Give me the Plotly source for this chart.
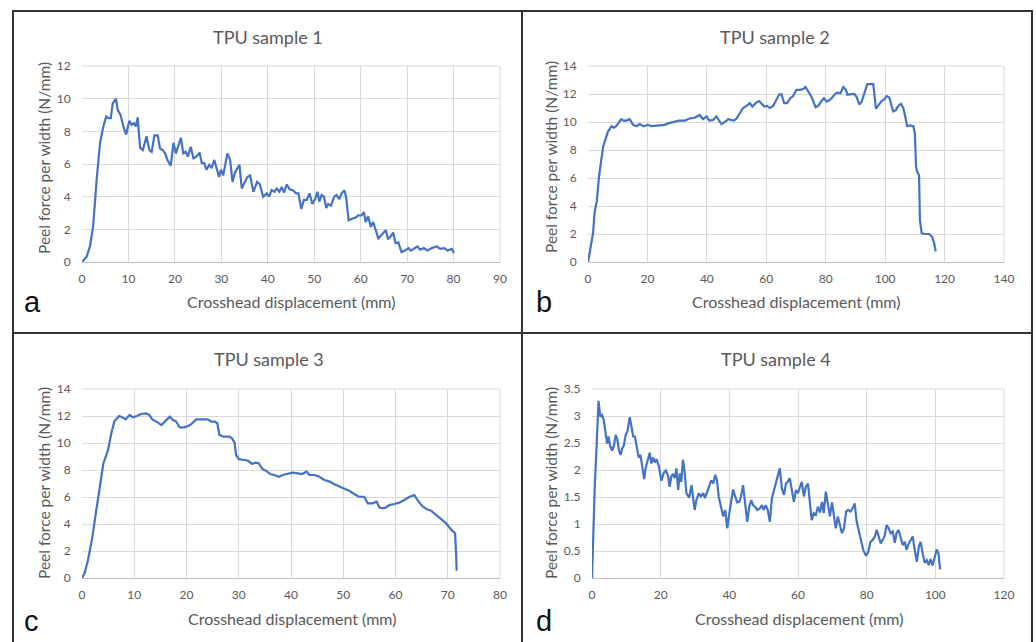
import plotly.graph_objects as go

W, H = 1036, 642

# ---------------- data ----------------
a_x = [0, 1, 1.7, 2.4, 3.2, 3.9, 4.6, 5.2, 5.7, 6.2, 6.6, 7.3, 7.7, 8.3, 8.9, 9.5, 10.2, 10.7, 11.2, 11.6, 12.0,
       12.5, 13.1, 13.9, 14.5, 15.0, 15.6, 16.3, 16.8, 17.4, 17.9, 18.4, 19.1, 19.7, 20.2, 20.8, 21.3, 21.8, 22.3,
       22.8, 23.4, 24.0, 24.6, 25.3, 25.8, 26.3, 26.8, 27.4, 27.9, 28.5, 29.0, 29.5, 29.9, 30.4, 31.3, 31.9, 32.4,
       32.9, 33.9, 34.4, 34.9, 35.6, 36.2, 36.9, 37.7, 38.3, 39.0, 39.8, 40.3, 40.8, 41.4, 41.9, 42.5, 43.0, 43.5,
       44.1, 44.7, 45.4, 46.1, 46.6, 47.2, 47.8, 48.4, 49.0, 49.6, 50.2, 50.7, 51.1, 51.6, 52.1, 52.6, 53.0, 53.6,
       54.3, 54.8, 55.4, 55.9, 56.5, 56.9, 57.4, 58.1, 58.8, 59.5, 60.2, 60.7, 61.1, 61.6, 62.2, 62.7, 63.2, 63.8,
       64.5, 65.4, 65.9, 66.4, 67.0, 67.5, 68.1, 68.8, 69.5, 70.3, 70.8, 71.5, 72.2, 72.8, 73.6, 74.4, 75.3, 76.4,
       77.1, 78.0, 78.7, 79.6, 80.1]
a_y = [0, 0.33, 0.94, 2.2, 5.2, 7.3, 8.3, 8.9, 8.8, 8.8, 9.7, 10.0, 9.3, 9.0, 8.3, 7.8, 8.65, 8.4, 8.5, 8.3, 8.85,
       7.0, 6.85, 7.7, 6.85, 6.75, 7.75, 7.75, 6.95, 6.85, 6.65, 6.25, 5.9, 7.3, 6.65, 7.1, 7.6, 6.65, 6.75,
       6.45, 7.05, 6.35, 6.45, 6.7, 6.05, 6.05, 5.65, 5.95, 5.75, 6.25, 5.65, 5.2, 5.65, 5.3, 6.65, 6.25, 4.9,
       5.45, 5.95, 4.5, 4.8, 5.2, 5.3, 4.3, 4.9, 4.75, 4.0, 4.2, 4.0, 4.4, 4.3, 4.5, 4.3, 4.6, 4.25,
       4.75, 4.45, 4.4, 4.2, 4.2, 3.25, 3.8, 3.8, 4.2, 3.55, 3.85, 4.3, 3.7, 4.1, 4.0, 3.3, 3.55, 3.45,
       4.0, 4.1, 3.85, 4.2, 4.4, 3.9, 2.55, 2.65, 2.7, 2.85, 2.85, 3.05, 2.45, 2.8, 2.15, 2.45, 1.95, 1.45,
       1.65, 1.95, 1.4, 1.55, 1.8, 1.15, 1.2, 0.6, 0.7, 0.85, 0.7, 0.85, 0.95, 0.75, 0.85, 0.7, 0.85, 0.95,
       0.8, 0.85, 0.7, 0.8, 0.55]

b_x = [0, 0.9, 1.7, 2.2, 3.0, 3.7, 4.5, 5.1, 6.0, 6.7, 7.9, 8.7, 9.5, 10.4, 11.2, 12.0, 12.9, 14.0, 15.2, 16.3,
       17.4, 18.7, 20.2, 21.3, 23.0, 24.1, 25.8, 27.0, 28.6, 30.6, 32.6, 34.2, 35.9, 37.6, 38.7, 39.9, 40.8,
       42.1, 43.2, 44.0, 44.9, 46.0, 47.2, 48.1, 49.1, 50.0, 51.1, 52.2, 53.3, 54.5, 55.3, 56.7, 57.6, 58.4,
       59.3, 60.3, 61.2, 62.3, 63.4, 64.3, 65.1, 66.0, 67.0, 68.1, 69.0, 70.2, 71.3, 72.4, 73.2, 74.1, 75.2,
       76.6, 77.5, 78.6, 79.4, 80.3, 81.2, 82.2, 83.1, 84.0, 85.0, 85.9, 86.8, 87.3, 88.5, 89.6, 90.4, 91.3,
       92.1, 93.0, 94.0, 94.9, 96.0, 96.9, 97.7, 98.8, 99.6, 100.5, 101.4, 102.2, 102.7, 103.6, 104.4, 105.3,
       106.1, 106.8, 107.4, 108.3, 109.5, 110.0, 110.4, 110.8, 111.4, 111.7, 112.3, 113.4, 114.8, 115.8,
       116.5, 117.0]
b_y = [0, 1.1, 2.05, 3.5, 4.4, 6.1, 7.3, 8.25, 8.85, 9.3, 9.7, 9.6, 9.7, 9.95, 10.2, 10.1, 10.1, 10.2, 9.8, 9.7,
       9.85, 9.7, 9.8, 9.7, 9.75, 9.75, 9.8, 9.9, 9.98, 10.1, 10.1, 10.25, 10.3, 10.5, 10.2, 10.4, 10.1,
       10.15, 10.4, 10.15, 9.85, 10.0, 10.2, 10.15, 10.1, 10.25, 10.6, 11.0, 11.15, 11.35, 11.1, 11.4, 11.5, 11.3,
       11.1, 11.15, 11.0, 11.15, 11.6, 11.95, 12.0, 11.35, 11.35, 11.7, 11.85, 12.3, 12.3, 12.35, 12.5, 12.15, 11.8,
       11.05, 11.15, 11.5, 11.7, 11.45, 11.55, 11.75, 12.0, 12.1, 12.05, 12.5, 12.3, 11.95, 11.95, 12.0, 11.8, 11.25,
       11.45, 12.05, 12.7, 12.7, 12.7, 10.95, 11.15, 11.5, 11.6, 11.85, 11.75, 11.15, 10.75, 10.85, 11.15, 11.3,
       11.0, 10.35, 9.7, 9.75, 9.7, 9.2, 6.8, 6.45, 6.2, 3.0, 2.05, 2.0, 2.0, 1.8,
       1.35, 0.75]

c_x = [0, 0.5, 1.15, 2.0, 2.74, 3.4, 4.1, 5.0, 5.6, 6.2, 7.1, 7.7, 8.35, 9.1, 9.75, 10.5, 11.3, 12.3, 12.9, 13.45,
       14.2, 15.2, 15.8, 16.8, 17.4, 18.0, 18.7, 19.5, 20.3, 20.9, 21.9, 22.8, 24.1, 24.7, 25.4, 25.9, 26.3,
       27.1, 28.2, 28.7, 29.2, 29.5, 30.0, 31.1, 31.7, 32.6, 33.2, 33.8, 34.6, 35.2, 36.1, 36.8, 37.7, 38.4,
       39.4, 40.3, 41.3, 42.1, 43.0, 43.5, 44.5, 45.4, 46.4, 47.4, 48.3, 49.3, 50.2, 51.2, 52.1, 53.0, 54.0,
       54.7, 55.6, 56.4, 56.9, 57.5, 58.2, 58.8, 59.8, 60.7, 61.7, 62.7, 63.6, 64.2, 65.1, 66.0, 66.8, 67.7,
       68.7, 69.7, 70.6, 71.4, 71.6, 71.7]
c_y = [0, 0.35, 1.33, 3.06, 5.04, 6.77, 8.5, 9.5, 10.7, 11.6, 12.0, 11.9, 11.75, 12.07, 11.9, 12.0, 12.15, 12.2,
       12.07, 11.75, 11.6, 11.33, 11.58, 11.95, 11.7, 11.6, 11.16, 11.16, 11.26, 11.4, 11.75, 11.75, 11.75, 11.58,
       11.58, 11.46, 10.6, 10.47, 10.47, 10.35, 10.02, 9.1, 8.8, 8.74, 8.7, 8.45, 8.55, 8.5, 8.05, 7.95, 7.68,
       7.63, 7.5, 7.63, 7.7, 7.8, 7.75, 7.7, 7.88, 7.63, 7.63, 7.5, 7.26, 7.14, 6.94, 6.77, 6.64, 6.44, 6.22,
       6.02, 6.02, 5.53, 5.53, 5.65, 5.23, 5.16, 5.23, 5.4, 5.48, 5.58, 5.78, 6.02, 6.15, 5.78, 5.33, 5.09, 4.99,
       4.72, 4.42, 4.05, 3.6, 3.31, 1.83, 0.54]

d_x = [0, 0.8, 1.5, 1.9, 2.4, 2.9, 3.4, 4.0, 4.4, 4.8, 5.3, 5.9, 6.4, 6.9, 7.4, 7.8, 8.3, 8.8, 9.3, 9.8, 10.3,
       11.0, 11.6, 12.0, 12.5, 13.1, 13.6, 14.1, 14.7, 15.2, 15.6, 16.3, 16.8, 17.3, 17.8, 18.3, 18.8, 19.5,
       20.2, 20.9, 21.5, 22.2, 22.6, 23.1, 23.6, 24.1, 24.6, 25.1, 25.6, 26.0, 26.5, 27.0, 27.5, 28.3, 29.0,
       29.4, 29.9, 30.4, 31.1, 31.7, 32.4, 32.9, 33.5, 34.1, 34.7, 35.3, 35.9, 36.4, 36.9, 37.5, 38.2, 38.8,
       39.4, 40.0, 40.5, 41.1, 41.7, 42.3, 42.9, 43.4, 44.0, 44.6, 45.2, 45.8, 46.4, 46.9, 47.5, 48.1, 48.9,
       49.5, 50.0, 50.6, 51.2, 51.8, 52.4, 52.9, 53.5, 54.1, 54.7, 55.3, 55.9, 56.5, 57.0, 57.6, 58.2, 58.8,
       59.4, 60.0, 60.6, 61.1, 61.7, 62.3, 62.9, 63.5, 64.0, 64.6, 65.2, 65.8, 66.4, 67.0, 67.5, 68.1, 68.7,
       69.3, 69.9, 70.5, 71.0, 71.6, 72.2, 72.8, 73.4, 74.0, 74.6, 75.3, 75.9, 76.5, 77.1, 77.6, 78.2, 79.0,
       79.8, 80.5, 81.1, 81.7, 82.4, 82.9, 83.5, 84.1, 84.6, 85.2, 85.8, 86.4, 87.0, 87.6, 88.2, 88.7, 89.3,
       89.9, 90.5, 91.1, 91.6, 92.2, 92.8, 93.4, 94.0, 94.6, 95.2, 95.7, 96.3, 96.9, 97.5, 98.1, 98.6, 99.2,
       99.8, 100.4, 100.9, 101.4]
d_y = [0, 1.69, 2.68, 3.28, 2.99, 3.02, 2.93, 2.68, 2.49, 2.62, 2.44, 2.36, 2.46, 2.65, 2.56, 2.38, 2.28, 2.4,
       2.46, 2.65, 2.71, 2.98, 2.8, 2.62, 2.62, 2.43, 2.23, 2.28, 2.0, 1.83, 2.03, 2.19, 2.32, 2.12, 2.23, 2.14,
       2.2, 2.06, 1.8, 1.95, 1.99, 1.88, 1.69, 1.88, 1.93, 1.85, 2.03, 1.63, 1.94, 1.78, 2.19, 1.95, 1.57, 1.49,
       1.72, 1.51, 1.26, 1.44, 1.57, 1.51, 1.57, 1.48, 1.57, 1.69, 1.81, 1.75, 1.91, 1.81, 1.51, 1.32, 1.14,
       1.26, 0.92, 1.2, 1.38, 1.64, 1.51, 1.40, 1.41, 1.51, 1.72, 1.32, 1.04, 1.32, 1.44, 1.35, 1.32, 1.26,
       1.29, 1.35, 1.26, 1.35, 1.26, 1.04, 1.48, 1.60, 1.75, 1.85, 2.03, 1.66, 1.54, 1.75, 1.78, 1.85, 1.63,
       1.41, 1.63, 1.57, 1.69, 1.78, 1.51, 1.69, 1.75, 1.38, 1.07, 1.2, 1.17, 1.32, 1.21, 1.41, 1.2, 1.60,
       1.32, 1.14, 1.40, 1.14, 0.92, 1.14, 0.95, 0.83, 0.92, 1.23, 1.26, 1.23, 1.29, 1.38, 1.04, 0.89, 0.70,
       0.52, 0.41, 0.49, 0.67, 0.70, 0.77, 0.89, 0.77, 0.64, 0.70, 0.77, 0.98, 0.92, 0.83, 0.86, 0.65, 0.83,
       0.89, 0.73, 0.61, 0.67, 0.52, 0.63, 0.70, 0.77, 0.52, 0.30, 0.58, 0.67, 0.46, 0.28, 0.33, 0.24, 0.35,
       0.23, 0.38, 0.53, 0.46, 0.16]

titles = ["TPU sample 1", "TPU sample 2", "TPU sample 3", "TPU sample 4"]
letters = ["a", "b", "c", "d"]
x_title = "Crosshead displacement (mm)"
y_title = "Peel force per width (N/mm)"
x_ranges = [[0, 90], [0, 140], [0, 80], [0, 120]]
x_dticks = [10, 20, 10, 20]
y_ranges = [[0, 12], [0, 14], [0, 14], [0, 3.5]]
y_dticks = [2, 2, 2, 0.5]
series = [(a_x, a_y), (b_x, b_y), (c_x, c_y), (d_x, d_y)]

# ---------------- layout (pixel geometry) ----------------
# plot areas: (left, right, top, bottom) in px
areas = [(82, 500, 66, 262), (588, 1004, 66, 262), (82, 500, 389, 578), (592, 1004, 389, 578)]
title_pos = [(268, 37), (775, 37), (269, 359), (776, 359)]
xt_pos = [(291, 302), (796, 302), (292, 618), (799, 618)]
yt_pos = [(44, 158), (551, 157), (44, 483), (551, 483)]
letter_pos = [(22, 320), (534, 320), (22, 639), (534, 639)]

def px(x):
    return x / W

def py(y):
    return 1 - y / H

FONT = "Lato, Carlito, 'Open Sans', sans-serif"
TXT = "#595959"
GRID = "#d9d9d9"
BLUE = "#4472C4"

fig = go.Figure()
layout = dict(
    width=W, height=H, margin=dict(l=0, r=0, t=0, b=0, pad=0, autoexpand=False),
    paper_bgcolor="white", plot_bgcolor="white", showlegend=False,
    font=dict(family=FONT, color=TXT),
)
annotations = []
for i, ((xs, ys), (l, r, t, b)) in enumerate(zip(series, areas)):
    n = "" if i == 0 else str(i + 1)
    fig.add_trace(go.Scatter(x=xs, y=ys, mode="lines", line=dict(color=BLUE, width=2.2),
                             xaxis="x" + n, yaxis="y" + n, hoverinfo="skip"))
    layout["xaxis" + n] = dict(
        domain=[px(l), px(r)], range=x_ranges[i], dtick=x_dticks[i], tick0=0,
        anchor="y" + n, showgrid=True, gridcolor=GRID, gridwidth=1, zeroline=False,
        showline=True, linecolor="#bfbfbf", linewidth=1, automargin=False,
        ticks="outside", ticklen=6, tickcolor="rgba(0,0,0,0)",
        tickfont=dict(family=FONT, size=12, color=TXT), fixedrange=True,
    )
    layout["yaxis" + n] = dict(
        domain=[py(b), py(t)], range=y_ranges[i], dtick=y_dticks[i], tick0=0,
        anchor="x" + n, showgrid=True, gridcolor=GRID, gridwidth=1, zeroline=False,
        showline=False, automargin=False,
        ticks="outside", ticklen=8, tickcolor="rgba(0,0,0,0)",
        tickfont=dict(family=FONT, size=12, color=TXT), fixedrange=True,
    )
    annotations.append(dict(x=px(title_pos[i][0]), y=py(title_pos[i][1]), xref="paper", yref="paper",
                            text=titles[i], showarrow=False, xanchor="center", yanchor="middle",
                            font=dict(family=FONT, size=18, color=TXT)))
    annotations.append(dict(x=px(xt_pos[i][0]), y=py(xt_pos[i][1]), xref="paper", yref="paper",
                            text=x_title, showarrow=False, xanchor="center", yanchor="middle",
                            font=dict(family=FONT, size=16, color=TXT)))
    annotations.append(dict(x=px(yt_pos[i][0]), y=py(yt_pos[i][1]), xref="paper", yref="paper",
                            text=y_title, showarrow=False, xanchor="center", yanchor="middle", textangle=-90,
                            font=dict(family=FONT, size=15.5, color=TXT)))
    annotations.append(dict(x=px(letter_pos[i][0]), y=py(letter_pos[i][1]), xref="paper", yref="paper",
                            text=letters[i], showarrow=False, xanchor="left", yanchor="bottom",
                            font=dict(family="Liberation Sans, Arial, sans-serif", size=29, color="#111111")))

shapes = []
for (l, r, t, b) in areas:
    shapes.append(dict(type="line", xref="paper", yref="paper", x0=px(r), x1=px(r), y0=py(b), y1=py(t),
                       line=dict(color=GRID, width=1)))
    shapes.append(dict(type="line", xref="paper", yref="paper", x0=px(l), x1=px(r), y0=py(t), y1=py(t),
                       line=dict(color=GRID, width=1)))
BORDER = dict(color="#333333", width=2)
shapes += [
    dict(type="line", xref="paper", yref="paper", x0=px(12), x1=px(1032), y0=py(11), y1=py(11), line=BORDER),
    dict(type="line", xref="paper", yref="paper", x0=px(13), x1=px(13), y0=py(10), y1=py(642), line=BORDER),
    dict(type="line", xref="paper", yref="paper", x0=px(1032), x1=px(1032), y0=py(10), y1=py(642), line=BORDER),
    dict(type="line", xref="paper", yref="paper", x0=px(12), x1=px(1032), y0=py(333), y1=py(333), line=BORDER),
    dict(type="line", xref="paper", yref="paper", x0=px(522), x1=px(522), y0=py(10), y1=py(642), line=BORDER),
]
layout["annotations"] = annotations
layout["shapes"] = shapes
fig.update_layout(**layout)
fig.write_html(
    "out.html",
    config={"displayModeBar": False},
    post_script="document.documentElement.style.margin='0';document.documentElement.style.overflow='hidden';"
                "document.body.style.margin='0';document.body.style.padding='0';document.body.style.overflow='hidden';",
)
